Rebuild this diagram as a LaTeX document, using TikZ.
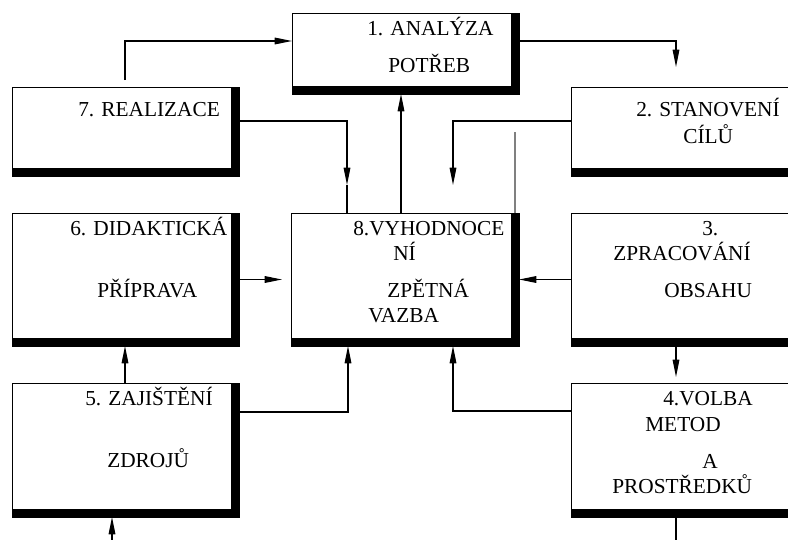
\documentclass[tikz,border=0pt]{standalone}
\usepackage{fontspec}
\setmainfont{Liberation Serif}
\usetikzlibrary{calc,arrows.meta}

\begin{document}
\begin{tikzpicture}[x=0.75pt,y=-0.75pt,
    font=\fontsize{16pt}{19pt}\selectfont,
    >={Triangle[length=13pt,width=5pt]},
    box/.style={draw, line width=0.7pt, inner sep=0pt, outer sep=0pt, anchor=north west},
    txt/.style={anchor=base west, inner sep=0pt},
    link/.style={line width=0.8pt}]
      \useasboundingbox (0,0) rectangle (788,539);
      \clip (0,0) rectangle (788,539);

      % boxes
      \node[box, minimum width=170.25pt, minimum height=60.75pt] (analyza) at (292,13) {};
      \node[box, minimum width=170.25pt, minimum height=66.75pt] (realizace) at (12,87) {};
      \node[box, minimum width=171.75pt, minimum height=66.75pt] (stanoveni) at (571,87) {};
      \node[box, minimum width=171pt, minimum height=99.75pt] (vyhodnoceni) at (291,213) {};
      \node[box, minimum width=170.25pt, minimum height=99.75pt] (priprava) at (12,213) {};
      \node[box, minimum width=171.75pt, minimum height=99.75pt] (zpracovani) at (571,213) {};
      \node[box, minimum width=170.25pt, minimum height=100.5pt] (zajisteni) at (12,383) {};
      \node[box, minimum width=171.75pt, minimum height=100.5pt] (volba) at (571,383) {};

      \foreach \b in {analyza,realizace,stanoveni,vyhodnoceni,priprava,zpracovani,zajisteni,volba} {
        \fill (\b.south west) rectangle ($(\b.south east)+(0,-8)$);
        \fill ($(\b.north east)+(-8,0)$) rectangle (\b.south east);
      }

      % texts
      \node[txt] (t1a) at (367,35) {1. ANALÝZA};
      \node[txt] (t1b) at (388,72) {POTŘEB};
      \node[txt] (t7a) at (78,116) {7. REALIZACE};
      \node[txt] (t2a) at (636,116) {2. STANOVENÍ};
      \node[txt] (t2b) at (683,143) {CÍLŮ};
      \node[txt] (t8a) at (353,235) {8.VYHODNOCE};
      \node[txt] (t8b) at (393,260) {NÍ};
      \node[txt] (t8c) at (387,297) {ZPĚTNÁ};
      \node[txt] (t8d) at (368,322) {VAZBA};
      \node[txt] (t6a) at (70,235) {6. DIDAKTICKÁ};
      \node[txt] (t6b) at (97,297) {PŘÍPRAVA};
      \node[txt] (t3a) at (702,235) {3.};
      \node[txt] (t3b) at (613,260) {ZPRACOVÁNÍ};
      \node[txt] (t3c) at (664,297) {OBSAHU};
      \node[txt] (t5a) at (85,405) {5. ZAJIŠTĚNÍ};
      \node[txt] (t5b) at (107,467) {ZDROJŮ};
      \node[txt] (t4a) at (663,405) {4.VOLBA};
      \node[txt] (t4b) at (645,431) {METOD};
      \node[txt] (t4c) at (702,468) {A};
      \node[txt] (t4d) at (612,493) {PROSTŘEDKŮ};

      % connectors
      \draw[link, ->] ($(realizace.north west)+(113,-7)$) |- ($(analyza.north west)+(0,28)$);
      \draw[link, ->] ($(analyza.north east)+(0,28)$) -| ($(stanoveni.north west)+(105,-20)$);
      \coordinate (mid7) at ($(vyhodnoceni.north west)+(56,-28)$);
      \draw[link, ->] ($(realizace.north east)+(0,34)$) -| (mid7);
      \draw[link] (mid7) -- ($(vyhodnoceni.north west)+(56,0)$);
      \draw[link, ->] ($(vyhodnoceni.north west)+(110,0)$) -- ($(analyza.south west)+(109,0)$);
      \draw[link, ->] ($(stanoveni.north west)+(0,34)$) -| ($(vyhodnoceni.north west)+(162,-28)$);
      \draw[link, gray] ($(vyhodnoceni.north west)+(224,0)$) -- ($(vyhodnoceni.north west)+(224,-81)$);
      \draw[link, ->] (priprava.east) -- ($(vyhodnoceni.west)+(-9,0)$);
      \draw[link, ->] (zpracovani.west) -- (vyhodnoceni.east);
      \draw[link, ->] ($(zpracovani.south west)+(105,0)$) -- ($(volba.north west)+(105,-6)$);
      \coordinate (down4) at ($(volba.south west)+(105,30)$);
      \draw[link] ($(volba.south west)+(105,0)$) -- (down4);
      \draw[link, ->] ($(volba.north west)+(0,28)$) -| ($(vyhodnoceni.south west)+(162,0)$);
      \draw[link, ->] ($(zajisteni.north east)+(0,29)$) -| ($(vyhodnoceni.south west)+(57,0)$);
      \draw[link, ->] ($(zajisteni.north west)+(113,0)$) -- ($(priprava.south west)+(113,0)$);
      \coordinate (up5) at ($(zajisteni.south west)+(100,30)$);
      \draw[link, ->] (up5) -- ($(zajisteni.south west)+(100,0)$);
    \end{tikzpicture}
\end{document}
